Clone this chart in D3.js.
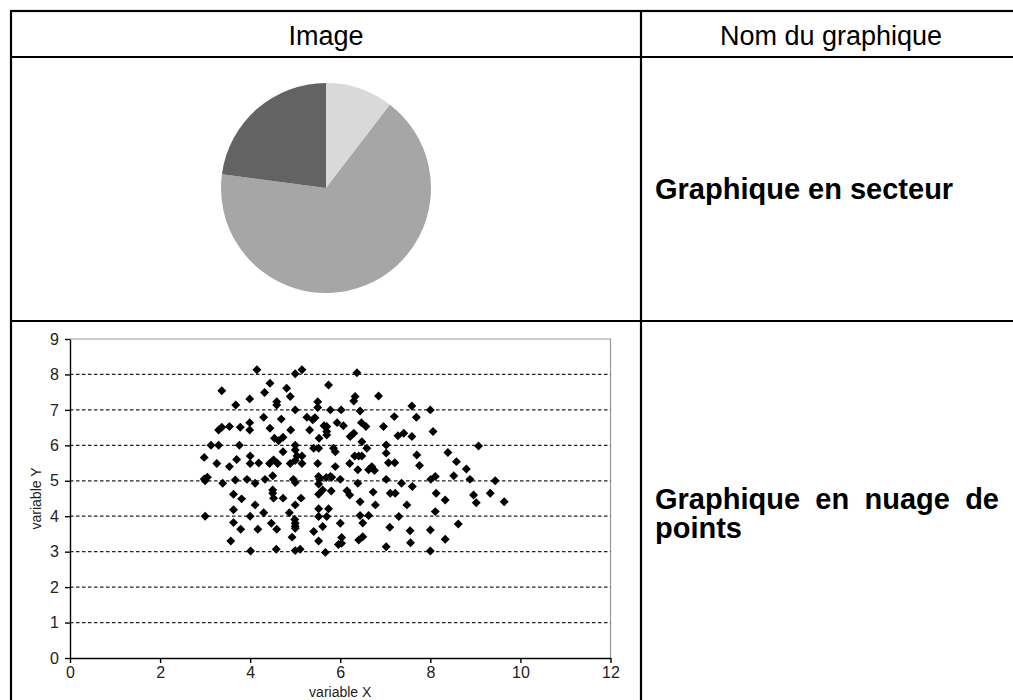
<!DOCTYPE html>
<html>
<head>
<meta charset="utf-8">
<script src="https://cdn.jsdelivr.net/npm/d3@7"></script>
<style>
  body { margin: 0; background: #fff; }
  svg { display: block; font-family: "Liberation Sans", Arial, sans-serif; }
</style>
</head>
<body>
<svg width="1013" height="700"></svg>
<script>
const svg = d3.select("svg");

// table text
const headers = ["Image", "Nom du graphique"];
const rowNames = ["Graphique en secteur", "Graphique en nuage de points"];

// pie data (share, clockwise from 12 o'clock)
const pieValues = [10.4, 66.7, 22.9];
const pieColors = ["#d9d9d9", "#a6a6a6", "#636363"];

// scatter data
const scatterX = [
  4.15, 5.0, 5.15, 4.44, 5.74, 3.37, 4.32, 4.81, 4.89, 3.99, 3.68, 4.59, 4.59, 5.0, 5.5, 5.5, 5.78,
  4.3, 4.69, 5.26, 5.39, 5.44, 5.32, 3.99, 3.99, 3.54, 3.78, 3.3, 3.37, 4.44, 4.9, 5.7, 5.7, 5.7,
  4.54, 4.63, 4.73, 5.53, 3.13, 3.3, 3.76, 5.0, 5.0, 5.41, 5.52, 5.85, 4.73, 2.98, 3.7, 4.0, 4.0,
  4.52, 5.04, 5.0, 5.15, 5.15, 3.26, 3.54, 4.43, 4.61, 4.89, 5.5, 3.0, 3.05, 2.98, 3.39, 3.67, 3.93,
  4.11, 4.33, 4.5, 4.96, 5.0, 5.52, 5.52, 5.54, 5.78, 4.5, 4.5, 4.73, 4.52, 3.63, 3.81, 5.13, 5.0,
  5.52, 5.61, 4.11, 3.0, 3.63, 4.0, 4.3, 4.87, 4.99, 5.52, 5.52, 5.74, 5.7, 3.63, 3.79, 4.17, 4.47,
  4.59, 5.0, 5.0, 5.41, 5.61, 4.93, 3.57, 5.52, 4.01, 4.58, 5.0, 5.11, 5.67,
  6.37, 6.85, 6.3, 6.33, 6.02, 6.44, 7.59, 8.0, 7.2, 7.69, 5.64, 5.93, 6.07, 6.47, 6.57, 6.96, 7.28,
  7.41, 7.59, 8.06, 6.22, 6.3, 6.48, 6.59, 7.02, 7.02, 5.89, 9.07, 6.32, 6.41, 6.48, 7.07, 7.21, 7.7,
  7.76, 8.39, 8.58, 8.8, 5.89, 6.21, 6.39, 6.63, 6.7, 6.76, 5.69, 6.0, 6.39, 7.02, 7.36, 7.6, 8.01,
  8.11, 8.52, 8.88, 9.44, 9.33, 8.96, 9.02, 9.64, 8.13, 8.33, 5.8, 6.15, 6.21, 6.44, 6.73, 6.78, 7.11,
  7.22, 7.48, 8.11, 7.3, 8.62, 6.0, 6.44, 6.63, 6.5, 7.1, 7.55, 8.0, 6.03, 6.03, 6.41, 6.5, 7.02,
  7.56, 8.33, 8.0, 5.81, 5.96, 4.19, 5.0
];
const scatterY = [
  8.13, 8.02, 8.13, 7.75, 7.7, 7.54, 7.49, 7.61, 7.38, 7.31, 7.14, 7.23, 7.14, 7.0, 7.23, 7.07, 7.0,
  6.79, 6.74, 6.79, 6.72, 6.78, 6.43, 6.64, 6.43, 6.53, 6.51, 6.43, 6.51, 6.48, 6.43, 6.53, 6.39, 6.29,
  6.2, 6.13, 6.23, 6.2, 6.0, 6.0, 6.0, 6.0, 5.87, 5.92, 5.92, 5.92, 5.82, 5.66, 5.6, 5.7, 5.49,
  5.59, 5.7, 5.57, 5.7, 5.49, 5.49, 5.4, 5.49, 5.49, 5.49, 5.49, 5.0, 5.1, 5.05, 4.93, 5.02, 5.04,
  4.93, 5.04, 5.14, 5.04, 4.95, 5.12, 4.91, 5.05, 5.12, 4.74, 4.65, 4.51, 4.51, 4.62, 4.49, 4.51, 4.32,
  4.62, 4.74, 4.32, 4.0, 4.18, 4.0, 4.1, 4.1, 3.91, 4.21, 3.99, 4.21, 3.99, 3.82, 3.63, 3.63, 3.8,
  3.63, 3.8, 3.66, 3.57, 3.71, 3.41, 3.3, 3.3, 3.02, 3.07, 3.03, 3.07, 2.98,
  8.05, 7.39, 7.25, 7.38, 7.0, 6.97, 7.11, 7.0, 6.81, 6.79, 6.55, 6.64, 6.55, 6.64, 6.53, 6.53, 6.27,
  6.34, 6.25, 6.39, 6.25, 6.34, 6.1, 5.92, 6.01, 5.78, 5.82, 5.98, 5.7, 5.7, 5.7, 5.51, 5.51, 5.73,
  5.43, 5.8, 5.54, 5.33, 5.4, 5.49, 5.31, 5.31, 5.4, 5.29, 5.09, 5.04, 4.93, 5.04, 4.93, 4.84, 5.04,
  5.12, 5.14, 5.04, 5.0, 4.65, 4.6, 4.38, 4.41, 4.65, 4.46, 4.71, 4.72, 4.6, 4.41, 4.68, 4.32, 4.65,
  4.65, 4.32, 4.13, 3.99, 3.78, 3.8, 4.02, 4.02, 3.81, 3.69, 3.59, 3.61, 3.4, 3.24, 3.33, 3.42, 3.14,
  3.25, 3.35, 3.02, 5.1, 3.2, 5.5, 3.72
];
const xTicks = [0, 2, 4, 6, 8, 10, 12];
const yTicks = [0, 1, 2, 3, 4, 5, 6, 7, 8, 9];
const xLabel = "variable X";
const yLabel = "variable Y";

// ---- table grid ----
const tbl = { left: 11, top: 11, right: 1021, bottom: 712, colSplit: 641, rows: [57, 321] };
const grid = svg.append("g").attr("stroke", "#000").attr("stroke-width", 2.2);
grid.append("rect")
  .attr("x", tbl.left).attr("y", tbl.top)
  .attr("width", tbl.right - tbl.left).attr("height", tbl.bottom - tbl.top)
  .attr("fill", "none");
grid.append("line")
  .attr("x1", tbl.colSplit).attr("x2", tbl.colSplit)
  .attr("y1", tbl.top).attr("y2", tbl.bottom);
grid.selectAll(".rowline")
  .data(tbl.rows)
  .enter()
  .append("line")
  .attr("x1", tbl.left).attr("x2", tbl.right)
  .attr("y1", d => d).attr("y2", d => d);

svg.selectAll(".hdr")
  .data(headers)
  .enter()
  .append("text")
  .attr("x", (d, i) => i === 0 ? (tbl.left + tbl.colSplit) / 2 : (tbl.colSplit + tbl.right) / 2)
  .attr("y", 45)
  .attr("text-anchor", "middle")
  .style("font-size", "27px")
  .text(d => d);

// row 1 name
svg.append("text")
  .attr("x", 655).attr("y", 199)
  .style("font-size", "29px").style("font-weight", "bold")
  .text(rowNames[0]);

// row 2 name, justified over two lines
const words = rowNames[1].split(" ");
const line1 = svg.append("text")
  .attr("x", 655).attr("y", 509)
  .style("font-size", "29px").style("font-weight", "bold")
  .text(words.slice(0, 4).join(" "));
const natural = line1.node().getComputedTextLength();
line1.style("word-spacing", ((999 - 655 - natural) / 3) + "px");
svg.append("text")
  .attr("x", 655).attr("y", 538)
  .style("font-size", "29px").style("font-weight", "bold")
  .text(words.slice(4).join(" "));

// ---- pie ----
const pieG = svg.append("g").attr("transform", "translate(326,188)");
const arcs = d3.pie().sort(null)(pieValues);
const arc = d3.arc().innerRadius(0).outerRadius(105);
pieG.selectAll("path")
  .data(arcs)
  .enter()
  .append("path")
  .attr("d", arc)
  .attr("fill", (d, i) => pieColors[i]);

// ---- scatter ----
const x = d3.scaleLinear().domain([0, 12]).range([70, 610.5]);
const y = d3.scaleLinear().domain([0, 9]).range([658, 339]);
const sc = svg.append("g");

// plot area frame (top & right)
sc.append("path")
  .attr("d", `M${x(0)},${y(9)}H${x(12)}V${y(0)}`)
  .attr("fill", "none")
  .attr("stroke", "#999")
  .attr("stroke-width", 1.2);

sc.selectAll(".gridline")
  .data(yTicks.filter(d => d > 0 && d < 9))
  .enter()
  .append("line")
  .attr("x1", x(0)).attr("x2", x(12))
  .attr("y1", d => y(d)).attr("y2", d => y(d))
  .attr("stroke", "#222")
  .attr("stroke-width", 1.3)
  .attr("stroke-dasharray", "3.5,2.5");

const xAxis = sc.append("g")
  .attr("transform", `translate(0,${y(0)})`)
  .call(d3.axisBottom(x).tickValues(xTicks).tickSize(5).tickPadding(4).tickSizeOuter(0));
const yAxis = sc.append("g")
  .attr("transform", `translate(${x(0)},0)`)
  .call(d3.axisLeft(y).tickValues(yTicks).tickSize(5).tickPadding(6).tickSizeOuter(0));
[xAxis, yAxis].forEach(a => {
  a.select(".domain").attr("stroke", "#000").attr("stroke-width", 1.4);
  a.selectAll(".tick line").attr("stroke", "#000").attr("stroke-width", 1.4);
  a.selectAll("text")
    .style("font-family", "'Liberation Sans', Arial, sans-serif")
    .style("font-size", "16px")
    .attr("fill", "#222");
});

sc.append("text")
  .attr("x", x(6)).attr("y", 697)
  .attr("text-anchor", "middle")
  .style("font-size", "14px")
  .attr("fill", "#222")
  .text(xLabel);
sc.append("text")
  .attr("transform", `translate(41,${(y(0) + y(9)) / 2}) rotate(-90)`)
  .attr("text-anchor", "middle")
  .style("font-size", "14px")
  .attr("fill", "#222")
  .text(yLabel);

const diamond = d3.symbol().type(d3.symbolSquare).size(40);
sc.selectAll(".pt")
  .data(scatterX.map((v, i) => [v, scatterY[i]]))
  .enter()
  .append("path")
  .attr("class", "pt")
  .attr("d", diamond)
  .attr("transform", d => `translate(${x(d[0])},${y(d[1])}) rotate(45)`)
  .attr("fill", "#000");
</script>
</body>
</html>
